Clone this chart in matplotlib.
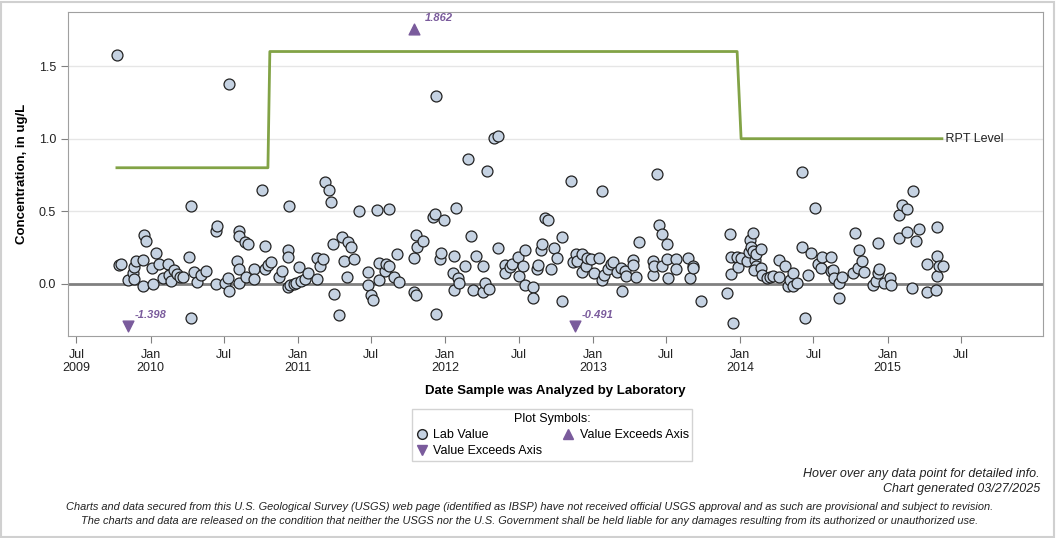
import datetime as dt
import matplotlib
matplotlib.use("Agg")
import matplotlib.pyplot as plt
import matplotlib.dates as mdates
import pandas as pd
from matplotlib.patches import Rectangle
from matplotlib.lines import Line2D

plt.rcParams['font.family'] = ['Liberation Sans', 'DejaVu Sans']

# lab values: analysis date (decimal year) and concentration (ug/L)
lab_year = [
    2009.771, 2009.785, 2009.799, 2009.846, 2009.880, 2009.887, 2009.887, 2009.900, 2009.948, 2009.948,
    2009.955, 2009.968, 2010.009, 2010.016, 2010.036, 2010.056, 2010.083, 2010.117, 2010.124, 2010.138,
    2010.158, 2010.178, 2010.199, 2010.219, 2010.260, 2010.273, 2010.273, 2010.294, 2010.314, 2010.341,
    2010.375, 2010.443, 2010.443, 2010.450, 2010.504, 2010.524, 2010.531, 2010.531, 2010.585, 2010.599,
    2010.599, 2010.599, 2010.599, 2010.640, 2010.647, 2010.660, 2010.701, 2010.701, 2010.755, 2010.775,
    2010.775, 2010.796, 2010.816, 2010.870, 2010.891, 2010.931, 2010.931, 2010.931, 2010.938, 2010.945,
    2010.972, 2010.986, 2011.006, 2011.020, 2011.047, 2011.067, 2011.128, 2011.128, 2011.149, 2011.169,
    2011.182, 2011.210, 2011.223, 2011.237, 2011.244, 2011.278, 2011.298, 2011.311, 2011.332, 2011.339,
    2011.359, 2011.379, 2011.413, 2011.474, 2011.474, 2011.495, 2011.508, 2011.535, 2011.549, 2011.549,
    2011.590, 2011.596, 2011.617, 2011.617, 2011.651, 2011.671, 2011.685, 2011.786, 2011.786, 2011.800,
    2011.800, 2011.807, 2011.847, 2011.915, 2011.929, 2011.936, 2011.936, 2011.963, 2011.970, 2011.990,
    2012.051, 2012.058, 2012.058, 2012.071, 2012.085, 2012.092, 2012.132, 2012.153, 2012.173, 2012.187,
    2012.207, 2012.254, 2012.254, 2012.268, 2012.282, 2012.295, 2012.329, 2012.356, 2012.356, 2012.404,
    2012.404, 2012.438, 2012.451, 2012.492, 2012.499, 2012.526, 2012.539, 2012.539, 2012.594, 2012.594,
    2012.621, 2012.628, 2012.648, 2012.655, 2012.675, 2012.695, 2012.716, 2012.736, 2012.757, 2012.790,
    2012.790, 2012.851, 2012.865, 2012.885, 2012.892, 2012.926, 2012.926, 2012.953, 2012.960, 2012.987,
    2013.008, 2013.041, 2013.062, 2013.062, 2013.075, 2013.102, 2013.123, 2013.136, 2013.164, 2013.191,
    2013.197, 2013.218, 2013.225, 2013.272, 2013.272, 2013.292, 2013.313, 2013.408, 2013.408, 2013.415,
    2013.435, 2013.449, 2013.469, 2013.469, 2013.503, 2013.503, 2013.510, 2013.564, 2013.564, 2013.645,
    2013.659, 2013.679, 2013.679, 2013.733, 2013.910, 2013.930, 2013.937, 2013.937, 2013.951, 2013.978,
    2013.984, 2014.005, 2014.045, 2014.059, 2014.066, 2014.073, 2014.086, 2014.086, 2014.100, 2014.107,
    2014.107, 2014.093, 2014.140, 2014.140, 2014.147, 2014.181, 2014.202, 2014.222, 2014.263, 2014.263,
    2014.303, 2014.324, 2014.337, 2014.358, 2014.358, 2014.385, 2014.419, 2014.419, 2014.439, 2014.459,
    2014.480, 2014.507, 2014.527, 2014.548, 2014.554, 2014.615, 2014.615, 2014.629, 2014.636, 2014.670,
    2014.670, 2014.690, 2014.765, 2014.778, 2014.799, 2014.805, 2014.826, 2014.839, 2014.900, 2014.921,
    2014.934, 2014.934, 2014.941, 2014.975, 2015.016, 2015.022, 2015.077, 2015.077, 2015.097, 2015.131,
    2015.131, 2015.165, 2015.172, 2015.192, 2015.212, 2015.267, 2015.267, 2015.328, 2015.335, 2015.335,
    2015.335, 2015.348, 2015.375,
]
lab_value = [
    1.576, 0.131, 0.138, 0.028, 0.076, 0.117, 0.034, 0.158, 0.165, -0.014,
    0.337, 0.296, 0.110, 0.000, 0.213, 0.138, 0.041, 0.138, 0.062, 0.021,
    0.096, 0.069, 0.048, 0.048, 0.186, 0.537, -0.234, 0.083, 0.014, 0.062,
    0.089, 0.000, 0.365, 0.399, 0.007, 0.041, -0.048, 1.376, 0.158, 0.365,
    0.330, 0.103, 0.007, 0.289, 0.048, 0.275, 0.103, 0.034, 0.647, 0.262,
    0.103, 0.131, 0.151, 0.048, 0.089, 0.234, 0.186, -0.021, 0.537, -0.007,
    0.000, 0.007, 0.117, 0.021, 0.034, 0.076, 0.179, 0.034, 0.124, 0.172,
    0.702, 0.647, 0.564, 0.275, -0.069, -0.213, 0.323, 0.158, 0.048, 0.289,
    0.255, 0.172, 0.502, 0.083, -0.007, -0.076, -0.110, 0.509, 0.145, 0.028,
    0.089, 0.138, 0.124, 0.516, 0.048, 0.206, 0.014, 0.179, -0.055, -0.076,
    0.337, 0.255, 0.296, 0.461, 0.482, 1.294, -0.206, 0.172, 0.213, 0.440,
    0.076, -0.041, 0.193, 0.523, 0.041, 0.007, 0.124, 0.860, 0.330, -0.041,
    0.193, 0.124, -0.055, 0.007, 0.778, -0.034, 1.005, 1.019, 0.248, 0.131,
    0.076, 0.117, 0.138, 0.186, 0.055, 0.124, 0.234, -0.007, -0.021, -0.096,
    0.103, 0.131, 0.234, 0.275, 0.454, 0.440, 0.103, 0.248, 0.179, 0.323,
    -0.117, 0.709, 0.151, 0.206, 0.158, 0.206, 0.083, 0.124, 0.179, 0.172,
    0.076, 0.179, 0.640, 0.028, 0.062, 0.103, 0.138, 0.151, 0.083, 0.110,
    -0.048, 0.089, 0.055, 0.165, 0.131, 0.048, 0.289, 0.158, 0.062, 0.124,
    0.757, 0.406, 0.344, 0.124, 0.275, 0.172, 0.041, 0.172, 0.103, 0.179,
    0.041, 0.124, 0.110, -0.117, -0.062, 0.344, 0.186, 0.069, -0.268, 0.186,
    0.117, 0.179, 0.158, 0.220, 0.303, 0.255, 0.351, 0.227, 0.165, 0.206,
    0.124, 0.096, 0.241, 0.110, 0.062, 0.041, 0.048, 0.055, 0.165, 0.048,
    0.124, -0.014, 0.028, 0.076, -0.014, 0.007, 0.771, 0.255, -0.234, 0.062,
    0.213, 0.523, 0.138, 0.110, 0.186, 0.186, 0.089, 0.096, 0.041, 0.007,
    -0.096, 0.048, 0.076, 0.351, 0.110, 0.234, 0.158, 0.083, -0.007, 0.021,
    0.282, 0.076, 0.103, 0.007, 0.041, -0.007, 0.475, 0.317, 0.544, 0.516,
    0.358, -0.028, 0.640, 0.296, 0.379, 0.138, -0.055, -0.041, 0.392, 0.193,
    0.055, 0.124, 0.124,
]

# values beyond the axis range
exceed_year = [2009.846, 2011.786, 2012.879]
exceed_value = [-1.398, 1.862, -0.491]

# RPT level step line
rpt_year = [2009.771, 2010.796, 2010.809, 2013.978, 2014.005, 2015.368]
rpt_value = [0.8, 0.8, 1.6, 1.6, 1.0, 1.0]

y_min, y_max = -0.358, 1.872
x_min, x_max = 2009.439, 2016.054
tick_dates = pd.date_range("2009-07-01", "2015-07-01", freq="6MS")


def to_date(y):
    year = int(y)
    start = dt.datetime(year, 1, 1)
    end = dt.datetime(year + 1, 1, 1)
    return mdates.date2num(start + (end - start) * (y - year))


face = "#c5d2e2"
purple = "#7a5b9c"
green = "#82a346"

fig = plt.figure(figsize=(10.56, 5.38), dpi=100)
ax = fig.add_axes([68 / 1056, 1 - 336 / 538, (1043 - 68) / 1056, (336 - 12) / 538])

# grid and zero line
for g in [0.5, 1.0, 1.5]:
    ax.axhline(g, color="#e6e6e6", lw=1, zorder=0)
ax.axhline(0, color="#808080", lw=2, zorder=1)

ax.plot([to_date(v) for v in rpt_year], rpt_value, color=green, lw=2, zorder=2)
ax.text(to_date(rpt_year[-1]), rpt_value[-1], " RPT Level", va="center", ha="left",
        fontsize=9, color="#222222")

ax.scatter([to_date(v) for v in lab_year], lab_value, s=62, c=face,
           edgecolors="#222222", linewidths=0.9, zorder=3)

# exceedance markers pinned to the axis edges
trans = ax.get_xaxis_transform()
for yr, val in zip(exceed_year, exceed_value):
    d = to_date(yr)
    if val > 0:
        ax.scatter([d], [0.948], marker="^", s=60, color=purple, transform=trans, zorder=4, clip_on=False)
        ax.annotate(f"{val:.3f}", (d, 0.948), xycoords=trans, xytext=(8, 6), textcoords="offset points",
                    color=purple, fontsize=8, fontweight="bold", style="italic")
    else:
        ax.scatter([d], [0.03], marker="v", s=60, color=purple, transform=trans, zorder=4, clip_on=False)
        ax.annotate(f"{val:.3f}", (d, 0.03), xycoords=trans, xytext=(5, 6), textcoords="offset points",
                    color=purple, fontsize=8, fontweight="bold", style="italic")

ax.set_ylim(y_min, y_max)
ax.set_xlim(to_date(x_min), to_date(x_max))
ax.set_yticks([0.0, 0.5, 1.0, 1.5])
ax.set_yticklabels(["0.0", "0.5", "1.0", "1.5"])

tick_labels = []
for i, t in enumerate(tick_dates):
    if t.month == 1 or i == 0:
        tick_labels.append(t.strftime("%b") + "\n" + str(t.year))
    else:
        tick_labels.append(t.strftime("%b"))
ax.set_xticks(mdates.date2num(tick_dates.to_pydatetime()))
ax.set_xticklabels(tick_labels)

ax.tick_params(axis="both", colors="#808080", labelcolor="#222222", labelsize=9, length=5)
ax.tick_params(axis="x", pad=4)
for s in ax.spines.values():
    s.set_color("#a0a0a0")

ax.set_ylabel("Concentration, in ug/L", fontsize=9.5, fontweight="bold", labelpad=8)
ax.set_xlabel("Date Sample was Analyzed by Laboratory", fontsize=9.5, fontweight="bold", labelpad=8)

# legend box
handles = [
    Line2D([], [], ls="none", marker="o", markersize=7, markerfacecolor=face, markeredgecolor="#222222"),
    Line2D([], [], ls="none", marker="v", markersize=7, color=purple),
    Line2D([], [], ls="none", marker="^", markersize=7, color=purple),
]
leg = fig.legend(handles, ["Lab Value", "Value Exceeds Axis", "Value Exceeds Axis"],
                 title="Plot Symbols:", ncol=2, loc="center", bbox_to_anchor=(552 / 1056, 1 - 435 / 538),
                 fontsize=9, title_fontsize=9, frameon=True, fancybox=False, edgecolor="#c8c8c8",
                 handletextpad=0.4, columnspacing=1.6, borderpad=0.3, labelspacing=0.35, handlelength=1.0)
leg.get_frame().set_linewidth(1)

fig.text(1040 / 1056, 1 - 474 / 538, "Hover over any data point for detailed info.", ha="right", va="center",
         fontsize=9, style="italic", color="#222222")
fig.text(1040 / 1056, 1 - 489 / 538, "Chart generated 03/27/2025", ha="right", va="center",
         fontsize=9, style="italic", color="#222222")
fig.text(530 / 1056, 1 - 507 / 538,
         "Charts and data secured from this U.S. Geological Survey (USGS) web page (identified as IBSP) have not received "
         "official USGS approval and as such are provisional and subject to revision.",
         ha="center", va="center", fontsize=7.9, style="italic", color="#222222")
fig.text(530 / 1056, 1 - 521 / 538,
         "The charts and data are released on the condition that neither the USGS nor the U.S. Government shall be held "
         "liable for any damages resulting from its authorized or unauthorized use.",
         ha="center", va="center", fontsize=7.9, style="italic", color="#222222")

fig.patches.append(Rectangle((0.001, 0.002), 0.997, 0.995, transform=fig.transFigure, fill=False,
                             edgecolor="#d0d0d0", lw=1.5))

fig.savefig("out.png", dpi=100)
